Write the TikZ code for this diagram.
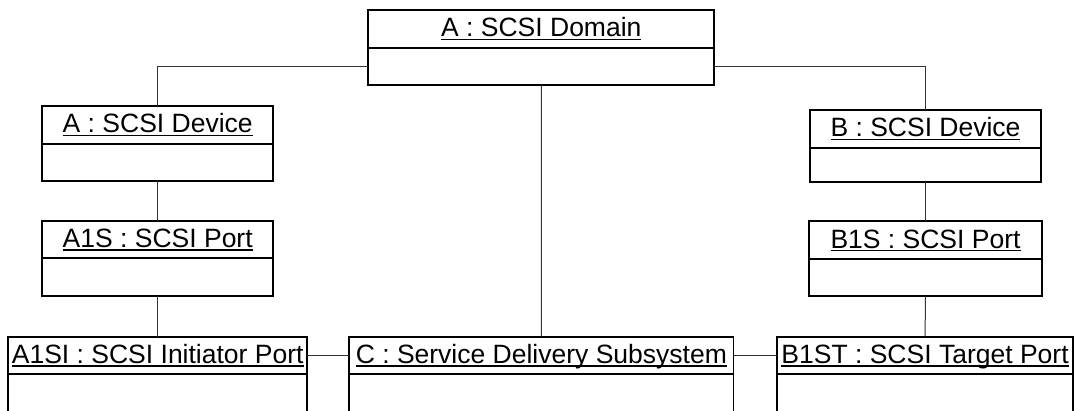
\documentclass[tikz,border=0pt]{standalone}
\usepackage{fontspec}
\setmainfont{Liberation Sans}
\usepackage{tikz}
\usetikzlibrary{positioning}

% underlined object name, line kept at a fixed height
\newcommand{\uname}[1]{\setbox0\hbox{#1}\rlap{\rule[-3.2pt]{\wd0}{1.4pt}}\box0}

\tikzstyle{objname} = [rectangle, 
draw=black, 
line width=1.9pt,
inner sep=0pt,
outer sep=0pt,
minimum height=37.7pt,
text height=16pt,
text depth=0pt,
font=\fontsize{26.5}{30}\selectfont]
\tikzstyle{objbody} = [rectangle, 
draw=black, 
line width=1.9pt,
inner sep=0pt,
outer sep=0pt,
minimum height=37.3pt]
\tikzstyle{link} = [line width=1pt, draw=black!80]

\begin{document}
\begin{tikzpicture}[x=1pt, y=-1pt, node distance=39.7pt]
\useasboundingbox (0,0) rectangle (1074,410);

\node (domain) [objname, minimum width=346pt, anchor=north] at (541.3,10) {\uname{A : SCSI Domain}};
\node (domainb) [objbody, minimum width=346pt, below=0pt of domain] {};

\node (adev) [objname, minimum width=230.7pt, anchor=north] at (157.7,106) {\uname{A : SCSI Device}};
\node (adevb) [objbody, minimum width=230.7pt, below=0pt of adev] {};
\node (a1s) [objname, minimum width=230.7pt, below=of adevb] {\uname{A1S : SCSI Port}};
\node (a1sb) [objbody, minimum width=230.7pt, below=0pt of a1s] {};
\node (a1si) [objname, minimum width=299pt, below=41pt of a1sb] {\uname{A1SI : SCSI Initiator Port}};
\node (a1sib) [objbody, minimum width=299pt, below=0pt of a1si] {};

\node (csds) [objname, minimum width=384.3pt, right=42pt of a1si] {\uname{C : Service Delivery Subsystem}};
\node (csdsb) [objbody, minimum width=384.3pt, below=0pt of csds] {};

\node (bdev) [objname, minimum width=231pt, anchor=north] at (925.5,110) {\uname{B : SCSI Device}};
\node (bdevb) [objbody, minimum width=231pt, minimum height=34pt, below=0pt of bdev] {};
\node (b1s) [objname, minimum width=232.4pt, below=of bdevb] {\uname{B1S : SCSI Port}};
\node (b1sb) [objbody, minimum width=232.4pt, below=0pt of b1s] {};
\node (b1st) [objname, minimum width=295.7pt, right=43.7pt of csds] {\uname{B1ST : SCSI Target Port}};
\node (b1stb) [objbody, minimum width=295.7pt, below=0pt of b1st] {};

\draw [link] (domainb.west) -| (adev.north);
\draw [link] (domainb.east) -| (bdev.north);
\draw [link] (domainb.south) -- (csds.north);
\draw [link] (adevb.south) -- (a1s.north);
\draw [link] (a1sb.south) -- (a1si.north);
\draw [link] (bdevb.south) -- (b1s.north);
\draw [link] (b1sb.south) -- (b1st.north);
\draw [link] (a1si.east) -- (csds.west);
\draw [link] (csds.east) -- (b1st.west);

\end{tikzpicture}
\end{document}
